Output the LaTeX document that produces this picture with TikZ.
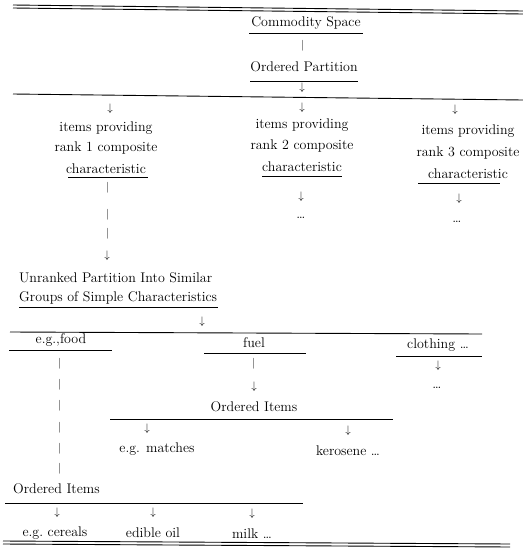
\documentclass[tikz,border=0pt]{standalone}
\begin{document}
\begin{tikzpicture}[x=1pt,y=-1pt,
  txt/.style={inner sep=0pt, font=\fontsize{14}{16}\selectfont},
  sym/.style={inner sep=0pt, font=\fontsize{10.5}{12}\selectfont},
  rule/.style={line width=0.9pt},
  uline/.style={line width=0.75pt}]
\useasboundingbox[fill=white] (0,0) rectangle (523,550);
% top double rule
\draw[rule] (13,5) -- (523,11);
\draw[rule] (13,8) -- (523,14);
% Commodity space
\node[txt] (cs) at (306,23) {Commodity Space};
\draw[uline] (249,33) -- (363,33);
\node[sym] (b1) at (303,46) {$\vert$};
\node[txt] (op) at (304,67) {Ordered Partition};
\draw[uline] (250,81) -- (358,81);
\node[sym] (a1) at (302,88) {$\downarrow$};
\draw[rule] (13,94) -- (523,100);
% three columns
\node[sym] (la) at (110,109) {$\downarrow$};
\node[sym] (ma) at (302,108) {$\downarrow$};
\node[sym] (ra) at (455,110) {$\downarrow$};
\node[txt] (l1) at (106,128) {items providing};
\node[txt] (l2) at (106,148) {rank 1 composite};
\node[txt] (l3) at (106,169) {characteristic};
\draw[uline] (68,177) -- (148,177);
\node[txt] (m1) at (302,125) {items providing};
\node[txt] (m2) at (302,146) {rank 2 composite};
\node[txt] (m3) at (302,167) {characteristic};
\draw[uline] (262,176) -- (342,176);
\node[txt] (r1) at (468,131) {items providing};
\node[txt] (r2) at (468,153) {rank 3 composite};
\node[txt] (r3) at (468,174) {characteristic};
\draw[uline] (418,183) -- (500,183);
% left column bars
\node[sym] (lb1) at (108,188) {$\vert$};
\node[sym] (lb2) at (108,215) {$\vert$};
\node[sym] (lb3) at (108,234) {$\vert$};
\node[sym] (lb4) at (107,256) {$\downarrow$};
% middle & right continuation
\node[sym] (mb) at (301,197) {$\downarrow$};
\node[txt] (md) at (301,218) {\dots};
\node[sym] (rb) at (459,199) {$\downarrow$};
\node[txt] (rd) at (457,222) {\dots};
% unranked partition
\node[txt, anchor=west] (u1) at (19,278) {Unranked Partition Into Similar};
\node[txt, anchor=west] (u2) at (19,298) {Groups of Simple Characteristics};
\draw[uline] (19,307) -- (218,307);
\node[sym] (ua) at (202,322) {$\downarrow$};
\draw[rule] (10,332) -- (482,334);
% groups
\node[txt] (food) at (61,340) {e.g.,food};
\draw[uline] (9,350) -- (112,350);
\node[txt] (fuel) at (254,343) {fuel};
\draw[uline] (204,353) -- (306,353);
\node[txt] (cloth) at (438,345) {clothing \dots};
\draw[uline] (396,356) -- (482,356);
% food column bars
\node[sym] (fb1) at (60,364) {$\vert$};
\node[sym] (fb2) at (60,385) {$\vert$};
\node[sym] (fb3) at (60,406) {$\vert$};
\node[sym] (fb4) at (60,428) {$\vert$};
\node[sym] (fb5) at (60,449) {$\vert$};
\node[sym] (fb6) at (60,469) {$\vert$};
% fuel column
\node[sym] (ub1) at (254,364) {$\vert$};
\node[sym] (ua1) at (254,387) {$\downarrow$};
\node[txt] (oi1) at (254,407) {Ordered Items};
\draw[uline] (110,419) -- (393,419);
\node[sym] (ua2) at (147,429) {$\downarrow$};
\node[sym] (ua3) at (348,431) {$\downarrow$};
\node[txt] (mat) at (157,449) {e.g. matches};
\node[txt] (ker) at (348,451) {kerosene \dots};
% clothing column
\node[sym] (ca) at (438,366) {$\downarrow$};
\node[txt] (cd) at (437,388) {\dots};
% food ordered items
\node[txt, anchor=west] (oi2) at (13,489) {Ordered Items};
\draw[uline] (5,503) -- (303,503);
\node[sym] (fa1) at (57,513) {$\downarrow$};
\node[sym] (fa2) at (153,513) {$\downarrow$};
\node[sym] (fa3) at (252,514) {$\downarrow$};
\node[txt] (cer) at (55,533) {e.g.\ cereals};
\node[txt] (oil) at (153,533) {edible oil};
\node[txt] (milk) at (252,534) {milk \dots};
% bottom double rule
\draw[rule] (3,541) -- (510,544);
\draw[rule] (3,544) -- (510,547);
\end{tikzpicture}
\end{document}
